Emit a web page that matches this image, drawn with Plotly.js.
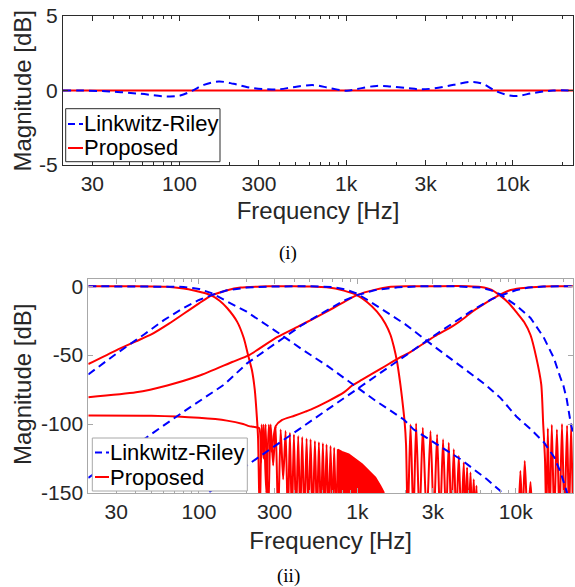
<!DOCTYPE html>
<html>
<head>
<meta charset="utf-8">
<script src="https://cdn.plot.ly/plotly-3.0.1.min.js"></script>
<style>html,body{margin:0;padding:0;background:#fff}#chart{width:575px;height:587px}</style>
</head>
<body>
<div id="chart"></div>
<script>
// ---------- tick labels ----------
const xTickVals = [30, 100, 300, 1000, 3000, 10000];
const xTickText = ['30', '100', '300', '1k', '3k', '10k'];
const xMinorVals = [20, 40, 50, 60, 70, 80, 90, 200, 400, 500, 600, 700, 800, 900,
                    2000, 4000, 5000, 6000, 7000, 8000, 9000, 20000];
const y1TickVals = [-5, 0, 5];
const y1TickText = ['-5', '0', '5'];
const y2TickVals = [-150, -100, -50, 0];
const y2TickText = ['-150', '-100', '-50', '0'];
const seriesNames = ['Linkwitz-Riley', 'Proposed'];

// ---------- (i) summed response ----------
const sumLRFreq = [20, 25, 38, 58, 84, 101, 119, 140, 172, 211, 256, 320, 400, 480, 640, 800, 1010, 1160,
                   1530, 1850, 2330, 2800, 3360, 4430, 5650, 6600, 8000, 10100, 13300, 17500, 23000];
const sumLRMag = [0, 0, -0.06, -0.22, -0.4, -0.34, -0.02, 0.38, 0.6, 0.45, 0.22, 0.09, 0.09, 0.22, 0.36, 0.16,
                  -0.02, 0.1, 0.31, 0.27, 0.16, 0.08, 0.14, 0.38, 0.58, 0.45, -0.06, -0.37, -0.17, 0, 0];
const sumPropFreq = [20, 23000];
const sumPropMag = [0, 0];

// ---------- (ii) band responses: Linkwitz-Riley ----------
const lr1Freq = [20, 40, 60, 80, 100, 120, 150, 200, 300, 450, 650, 912, 1300, 1963, 2270, 3180, 4480, 5430, 6580, 7980, 8500];
const lr1Mag = [0, 0, -0.1, -0.5, -2, -5, -11, -18.5, -32, -46, -58, -70, -83, -96.7, -104, -114.7, -125.5, -132.8, -140, -148.4, -152];
const lr2Freq = [20, 30, 45, 60, 80, 100, 120, 150, 200, 300, 500, 700, 850, 1000, 1216, 1500, 2000, 3000, 4500,
                 6440, 8000, 10100, 12500, 15000, 17500, 19200, 21000, 22000];
const lr2Mag = [-64, -49, -35, -24.6, -15.8, -10, -6.5, -3, -1, -0.2, 0, -0.6, -2.5, -5.5, -11.5, -18, -27.5, -43, -58,
                -71.4, -81, -94.5, -104, -113, -124, -135, -149, -160];
const lr3Freq = [20, 40, 80, 144, 201, 300, 450, 600, 822, 1000, 1300, 1800, 2500, 4000, 6000, 7000, 8000, 10100,
                 12400, 15000, 17400, 19100, 20000, 21000, 21600, 22300, 23000];
const lr3Mag = [-139, -115, -91, -71.4, -56, -42, -28, -19.5, -10.5, -6.5, -2.8, -0.8, -0.1, 0, -1, -3, -6, -14,
                -23, -37, -52, -66, -72, -82, -91, -100, -106];
const lr4Freq = [100, 116, 192, 427, 800, 1270, 2000, 3180, 5170, 7000, 8400, 10000, 12000, 15000, 23000];
const lr4Mag = [-155, -149.4, -131.5, -104, -82, -66.5, -50.5, -34.5, -18.5, -9.5, -6, -3, -1, -0.2, 0];

// ---------- (ii) band responses: Proposed ----------
const p1MainFreq = [20, 40, 63, 80, 93, 105, 118.5, 135, 151, 174, 192, 204, 216, 225, 232, 236];
const p1MainMag = [0, 0, -0.4, -1.7, -3.1, -4.6, -6.5, -10.5, -16, -25.7, -37.8, -49.8, -61, -75, -95, -110];
const p1LobeFreq = [242, 248.7, 256, 263.6, 273, 283.5, 294, 304.8, 316, 327.8, 340, 352.4, 364, 375.1, 386, 397.6,
                    410, 423.2, 436, 448.5, 463, 478.1, 492, 506.7, 523, 539.5, 556, 571.6, 589, 605.8, 622, 639.2,
                    658, 677.4, 696, 714, 734, 753.4];
const p1LobeMag = [-170, -100.3, -125, -100.3, -170, -100.3, -130, -101.5, -170, -103.9, -140, -105.1, -170, -106.3,
                   -170, -107.5, -170, -108.7, -170, -109.4, -170, -110.4, -170, -111.1, -170, -112.3, -170, -113.1,
                   -170, -114, -170, -114.9, -170, -115.9, -170, -117.1, -170, -118.3];
const p1DenseFreq = [753.4, 800, 883, 974, 1072, 1182, 1302, 1401, 1470, 1470, 753.4];
const p1DenseMag = [-118.3, -120, -121.9, -125.5, -129.1, -133.9, -138.7, -144.8, -149.4, -170, -170];

const p2MainFreq = [20, 30, 40, 50, 65, 80, 100, 118.5, 151, 183, 250, 300, 400, 500, 640, 822, 992, 1150, 1330,
                    1500, 1620, 1700, 1780, 1870, 1910, 1990, 2030];
const p2MainMag = [-56.5, -46.5, -40, -35, -27, -20, -12.5, -7, -2.9, -1, -0.2, 0, 0, -0.2, -0.8, -3.2, -6.5, -11.5,
                   -18.5, -27, -35.4, -44, -54.6, -71.4, -80, -99, -115];
const p2LobeFreq = [2080, 2166, 2260, 2350, 2470, 2590, 2740, 2896, 3040, 3188, 3330, 3478, 3630, 3778, 3920, 4063,
                    4210, 4369, 4530, 4699, 4810, 4930, 5050, 5180, 5300, 5432, 5540, 5651, 5760];
const p2LobeMag = [-170, -100.3, -170, -99.6, -170, -102.7, -170, -105.1, -170, -107.5, -170, -111.1, -170, -113.5,
                   -170, -118.3, -170, -123.2, -170, -127.9, -170, -131.5, -170, -135.1, -170, -140, -170, -144.8, -170];
const p2HighLobeFreq = [10400, 10700, 11050, 11400, 11900, 12400, 12800];
const p2HighLobeMag = [-170, -134, -170, -126.8, -170, -142, -170];

const p3MainFreq = [20, 40, 63, 100, 162, 207, 311, 427, 519, 700, 822, 1000, 1300, 1580, 2000, 3000, 5000, 6000,
                    7000, 7900, 9000, 10100, 11300, 12400, 13500, 14500, 14900, 15300];
const p3MainMag = [-80.6, -77, -72, -65, -55, -50, -37, -29, -24, -16, -11.5, -6.3, -2.5, -0.6, -0.1, 0, 0, -0.6,
                   -2.5, -6.5, -12, -18.8, -26, -35.4, -52, -71.4, -99, -125];
const p3LobeFreq = [15600, 15950, 16400, 16900, 17500, 18200, 18900, 19600, 20300, 21100, 21700, 22400, 23000];
const p3LobeMag = [-170, -103, -170, -100.5, -170, -104, -170, -100, -170, -101, -170, -100, -170];

const p4MainFreq = [20, 50, 100, 150, 190, 207, 220, 240];
const p4MainMag = [-93.8, -94, -95.5, -97.5, -100, -101.5, -102, -103];
const p4LobeFreq = [246, 256, 266, 276, 286];
const p4LobeMag = [-128, -100.5, -150, -100.5, -120];
const p4RiseFreq = [305, 335, 400, 470, 519, 650, 822, 928, 1072, 1400, 1826, 2104, 2835, 3180, 4000, 4807, 5170,
                    6400, 7840, 9000, 10700, 13500, 17000, 23000];
const p4RiseMag = [-101.5, -97, -94, -91, -89, -83.5, -77, -72, -67.8, -60, -52.2, -48.6, -39, -35.4, -29, -22.5,
                   -19.5, -12.5, -6.5, -3.3, -1.5, -0.5, -0.1, 0];

// ---------- styles ----------
const BLUE = '#0000ff', RED = '#ff0000';
const FONT = 'Liberation Sans, Arial, Helvetica, sans-serif';
const dashStyle = '8px,5px';

function lr(x, y, xa, ya) {
  return {x: x, y: y, xaxis: xa, yaxis: ya, type: 'scatter', mode: 'lines', name: seriesNames[0],
          line: {color: BLUE, width: 2, dash: dashStyle}, hoverinfo: 'skip'};
}
function prop(x, y, xa, ya, extra) {
  return Object.assign({x: x, y: y, xaxis: xa, yaxis: ya, type: 'scatter', mode: 'lines', name: seriesNames[1],
          line: {color: RED, width: 2, shape: 'spline', smoothing: 0.6}, hoverinfo: 'skip'}, extra || {});
}

const traces = [
  prop(sumPropFreq, sumPropMag, 'x', 'y'),
  Object.assign(lr(sumLRFreq, sumLRMag, 'x', 'y'), {line: {color: BLUE, width: 2, dash: dashStyle, shape: 'spline'}}),

  prop(p1MainFreq.concat(p1LobeFreq), p1MainMag.concat(p1LobeMag), 'x2', 'y2'),
  prop(p1DenseFreq, p1DenseMag, 'x2', 'y2', {fill: 'toself', fillcolor: RED, line: {color: RED, width: 1.5}}),
  prop(p2MainFreq.concat(p2LobeFreq), p2MainMag.concat(p2LobeMag), 'x2', 'y2'),
  prop(p2HighLobeFreq, p2HighLobeMag, 'x2', 'y2'),
  prop(p3MainFreq.concat(p3LobeFreq), p3MainMag.concat(p3LobeMag), 'x2', 'y2'),
  prop(p4MainFreq.concat(p4LobeFreq, p4RiseFreq), p4MainMag.concat(p4LobeMag, p4RiseMag), 'x2', 'y2'),

  lr(lr1Freq, lr1Mag, 'x2', 'y2'),
  lr(lr2Freq, lr2Mag, 'x2', 'y2'),
  lr(lr3Freq, lr3Mag, 'x2', 'y2'),
  lr(lr4Freq, lr4Mag, 'x2', 'y2')
];

const W = 575, H = 587;
const px = v => v / W, py = v => 1 - v / H;
const xRange = [Math.log10(20), Math.log10(23000)];

function xAxis(domain, anchor, lineColor, standoff) {
  return {
    domain: domain, anchor: anchor, type: 'log', range: xRange, autorange: false,
    tickmode: 'array', tickvals: xTickVals, ticktext: xTickText,
    ticks: 'inside', ticklen: 5, tickwidth: 1, tickcolor: lineColor,
    minor: {tickmode: 'array', tickvals: xMinorVals, ticks: 'inside', ticklen: 3, tickwidth: 1, tickcolor: lineColor, showgrid: false},
    showline: true, linecolor: lineColor, linewidth: 1, mirror: 'ticks',
    showgrid: false, zeroline: false,
    tickfont: {family: FONT, size: 21, color: '#262626'},
    title: {text: 'Frequency [Hz]', font: {family: FONT, size: 24, color: '#262626'}, standoff: standoff},
    automargin: false
  };
}
function yAxis(domain, anchor, range, vals, text, lineColor) {
  return {
    domain: domain, anchor: anchor, range: range, autorange: false,
    tickmode: 'array', tickvals: vals, ticktext: text,
    ticks: 'inside', ticklen: 5, tickwidth: 1, tickcolor: lineColor,
    showline: true, linecolor: lineColor, linewidth: 1, mirror: 'ticks',
    showgrid: false, zeroline: false,
    tickfont: {family: FONT, size: 21, color: '#262626'},
    automargin: false
  };
}

const TOPC = '#2b2b2b', BOTC = '#a8a8a8';

// custom legends (box, samples, labels)
function legend(box, row1, row2, lineX0, lineX1, textX, borderColor) {
  return {
    shapes: [
      {type: 'rect', xref: 'paper', yref: 'paper', x0: px(box[0]), x1: px(box[1]), y0: py(box[3]), y1: py(box[2]),
       fillcolor: '#ffffff', line: {color: borderColor, width: 1}, layer: 'above'},
      {type: 'line', xref: 'paper', yref: 'paper', x0: px(lineX0), x1: px(lineX1), y0: py(row1), y1: py(row1),
       line: {color: BLUE, width: 2, dash: '7px,4px'}, layer: 'above'},
      {type: 'line', xref: 'paper', yref: 'paper', x0: px(lineX0), x1: px(lineX1), y0: py(row2), y1: py(row2),
       line: {color: RED, width: 2}, layer: 'above'}
    ],
    annotations: [
      {xref: 'paper', yref: 'paper', x: px(textX), y: py(row1), xanchor: 'left', yanchor: 'middle', showarrow: false,
       text: seriesNames[0], font: {family: FONT, size: 22, color: '#000'}},
      {xref: 'paper', yref: 'paper', x: px(textX), y: py(row2), xanchor: 'left', yanchor: 'middle', showarrow: false,
       text: seriesNames[1], font: {family: FONT, size: 22, color: '#000'}}
    ]
  };
}
const lg1 = legend([65.7, 220, 108.7, 161.7], 124, 148, 68, 83, 82, TOPC);
const lg2 = legend([92.3, 247.3, 438, 491], 452.5, 477, 95, 109, 108, BOTC);

function yTitle(yc) {
  return {xref: 'paper', yref: 'paper', x: px(22), y: py(yc), xanchor: 'center', yanchor: 'middle', showarrow: false,
          textangle: -90, text: 'Magnitude [dB]', font: {family: FONT, size: 24, color: '#262626'}};
}
function caption(txt, yc) {
  return {xref: 'paper', yref: 'paper', x: px(288), y: py(yc), xanchor: 'center', yanchor: 'middle', showarrow: false,
          text: txt, font: {family: 'Liberation Serif, Times New Roman, serif', size: 19, color: '#000'}};
}

const layout = {
  width: W, height: H, autosize: false,
  margin: {l: 0, r: 0, t: 0, b: 0, pad: 0},
  paper_bgcolor: '#ffffff', plot_bgcolor: '#ffffff',
  showlegend: false,
  xaxis: xAxis([px(63), px(573)], 'y', TOPC, 7),
  yaxis: yAxis([py(165), py(16)], 'x', [-5, 5], y1TickVals, y1TickText, TOPC),
  xaxis2: xAxis([px(88.3), px(573)], 'y2', BOTC, 9),
  yaxis2: yAxis([py(493), py(279.3)], 'x2', [-150, 5], y2TickVals, y2TickText, BOTC),
  shapes: lg1.shapes.concat(lg2.shapes),
  annotations: lg1.annotations.concat(lg2.annotations, [
    yTitle(91.5), yTitle(385), caption('(i)', 253), caption('(ii)', 576)
  ])
};

Plotly.newPlot('chart', traces, layout, {staticPlot: true, displayModeBar: false});
</script>
</body>
</html>
